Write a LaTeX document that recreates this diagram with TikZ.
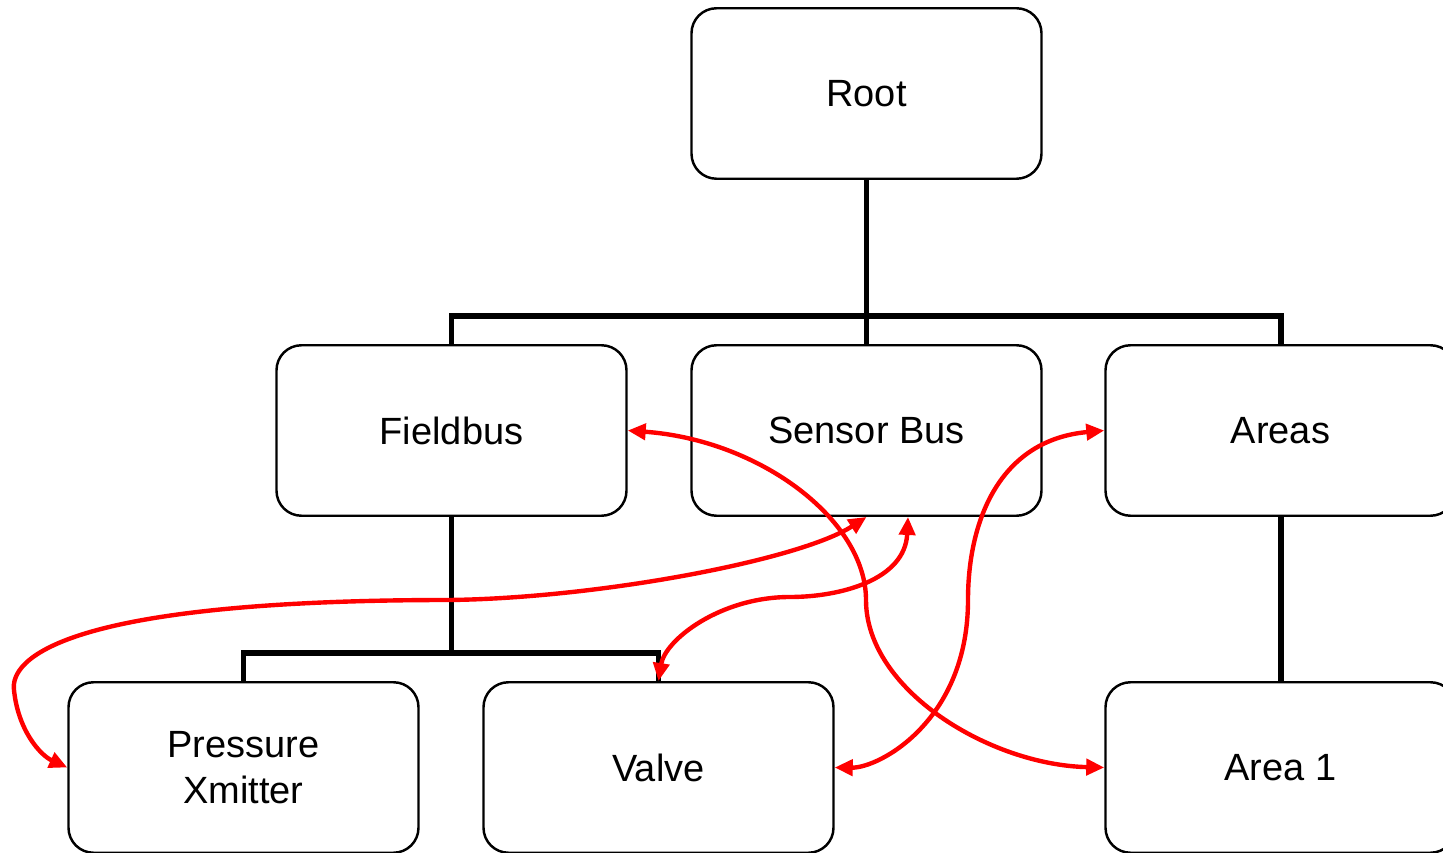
\documentclass[tikz,border=0pt]{standalone}
\usepackage{fontspec}
\setmainfont{Liberation Sans}
\usepackage{xcolor}
\usepackage{tikz}
\usetikzlibrary{arrows.meta}

\tikzset{
    box/.style={draw, line width=1.4pt, rounded corners=0.5cm, minimum width=7.0cm, minimum height=3.41cm, align=center, font=\fontsize{21.6}{26.5}\selectfont},
    tree/.style={line width=3.4pt, line join=miter},
    link/.style={<->, red, line width=2.5pt, >={Triangle[length=0.36cm, width=0.32cm]}}
}

\begin{document}
\begin{tikzpicture}
        \useasboundingbox (0,0) rectangle (28.86,17.06);

        % boxes
        \node[box] (Root) at (17.33,15.19) {Root};
        \node[box] (Fieldbus) at (9.03,8.45) {Fieldbus};
        \node[box] (SensorBus) at (17.33,8.45) {Sensor Bus};
        \node[box] (Areas) at (25.61,8.45) {Areas};
        \node[box] (Xmitter) at (4.87,1.71) {Pressure\\Xmitter};
        \node[box] (Valve) at (13.17,1.71) {Valve};
        \node[box] (AreaOne) at (25.61,1.71) {Area 1};

        % tree
        \draw[tree] (Root.south) -- (SensorBus.north);
        \draw[tree] (Fieldbus.north) -- ++(0,0.56) -| (Areas.north);
        \draw[tree] (Xmitter.north) -- ++(0,0.56) coordinate (fbus) -| (Valve.north);
        \draw[tree] (Fieldbus.south) -- (Fieldbus.south |- fbus);
        \draw[tree] (Areas.south) -- (AreaOne.north);

        % links
        \draw[link] (Fieldbus.east) .. controls (15.2,8.26) and (17.32,6.66) .. (17.32,5.06) .. controls (17.32,3.26) and (19.8,1.76) .. (AreaOne.west);
        \draw[link] (SensorBus.south) .. controls (16.0,5.86) and (12.0,5.1) .. (9.0,5.06) .. controls (1.2,5.06) and (0.2,3.86) .. (0.28,3.26) .. controls (0.36,2.46) and (0.8,1.96) .. (Xmitter.west);
        \draw[link] ([xshift=0.83cm]SensorBus.south) .. controls (18.1,5.46) and (16.8,5.12) .. (15.8,5.12) .. controls (14.4,5.12) and (13.3,4.26) .. (Valve.north);
        \draw[link] (Areas.west) .. controls (20.0,8.26) and (19.36,6.66) .. (19.36,5.06) .. controls (19.36,2.66) and (17.6,1.7) .. (Valve.east);
\end{tikzpicture}
\end{document}
